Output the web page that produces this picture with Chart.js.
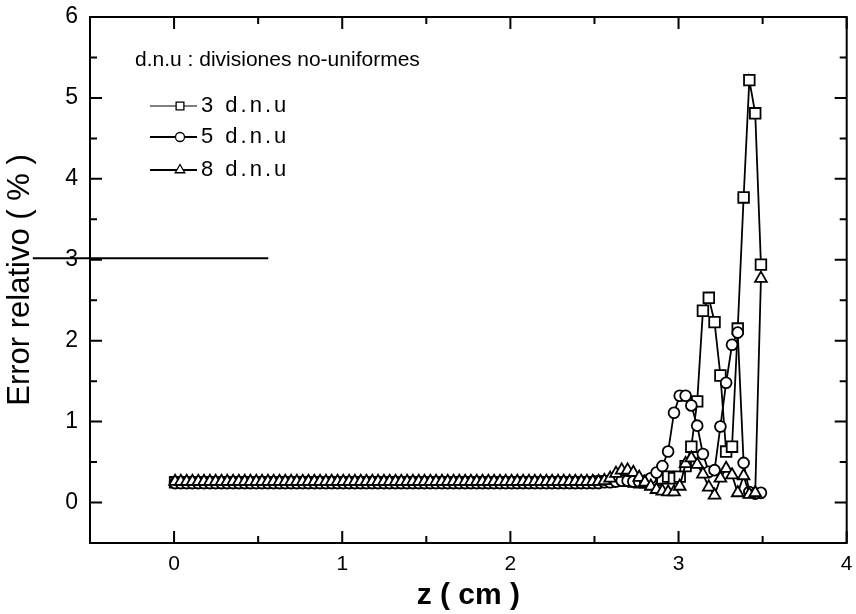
<!DOCTYPE html>
<html>
<head>
<meta charset="utf-8">
<script src="https://cdn.jsdelivr.net/npm/chart.js@4.4.0/dist/chart.umd.min.js"></script>
<style>
  body { margin: 0; background: #fff; }
  canvas { display: block; }
</style>
</head>
<body>
<canvas id="errChart" width="856" height="614"></canvas>
<script>
// z positions (cm) shared by the three curves
const zValues = [
  0.006, 0.040, 0.075, 0.109, 0.144, 0.178, 0.213, 0.247, 0.282, 0.316,
  0.351, 0.385, 0.420, 0.454, 0.489, 0.523, 0.558, 0.592, 0.627, 0.661,
  0.696, 0.730, 0.765, 0.799, 0.834, 0.868, 0.903, 0.937, 0.972, 1.006,
  1.041, 1.075, 1.110, 1.144, 1.179, 1.213, 1.248, 1.282, 1.317, 1.351,
  1.386, 1.420, 1.455, 1.489, 1.524, 1.558, 1.593, 1.627, 1.662, 1.696,
  1.731, 1.765, 1.800, 1.834, 1.869, 1.903, 1.938, 1.972, 2.007, 2.041,
  2.076, 2.110, 2.145, 2.179, 2.214, 2.248, 2.283, 2.317, 2.352, 2.386,
  2.421, 2.455, 2.490, 2.524, 2.559, 2.593, 2.628, 2.662, 2.697, 2.731,
  2.766, 2.800, 2.835, 2.869, 2.904, 2.938, 2.973, 3.007, 3.042, 3.076,
  3.111, 3.145, 3.180, 3.214, 3.249, 3.283, 3.318, 3.352, 3.387, 3.421,
  3.456, 3.490
];

// Error relativo (%) for 3 d.n.u
const err3 = [
  0.25, 0.25, 0.25, 0.25, 0.25, 0.25, 0.25, 0.25, 0.25, 0.25,
  0.25, 0.25, 0.25, 0.25, 0.25, 0.25, 0.25, 0.25, 0.25, 0.25,
  0.25, 0.25, 0.25, 0.25, 0.25, 0.25, 0.25, 0.25, 0.25, 0.25,
  0.25, 0.25, 0.25, 0.25, 0.25, 0.25, 0.25, 0.25, 0.25, 0.25,
  0.25, 0.25, 0.25, 0.25, 0.25, 0.25, 0.25, 0.25, 0.25, 0.25,
  0.25, 0.25, 0.25, 0.25, 0.25, 0.25, 0.25, 0.25, 0.25, 0.25,
  0.25, 0.25, 0.25, 0.25, 0.25, 0.25, 0.25, 0.25, 0.25, 0.25,
  0.25, 0.25, 0.25, 0.26, 0.26, 0.26, 0.27, 0.27, 0.27, 0.26,
  0.25, 0.25, 0.26, 0.28, 0.30, 0.32, 0.30, 0.32, 0.45, 0.69,
  1.25, 2.37, 2.53, 2.23, 1.57, 0.63, 0.69, 2.15, 3.77, 5.22,
  4.81, 2.94
];

// Error relativo (%) for 5 d.n.u
const err5 = [
  0.24, 0.24, 0.24, 0.24, 0.24, 0.24, 0.24, 0.24, 0.24, 0.24,
  0.24, 0.24, 0.24, 0.24, 0.24, 0.24, 0.24, 0.24, 0.24, 0.24,
  0.24, 0.24, 0.24, 0.24, 0.24, 0.24, 0.24, 0.24, 0.24, 0.24,
  0.24, 0.24, 0.24, 0.24, 0.24, 0.24, 0.24, 0.24, 0.24, 0.24,
  0.24, 0.24, 0.24, 0.24, 0.24, 0.24, 0.24, 0.24, 0.24, 0.24,
  0.24, 0.24, 0.24, 0.24, 0.24, 0.24, 0.24, 0.24, 0.24, 0.24,
  0.24, 0.24, 0.24, 0.24, 0.24, 0.24, 0.24, 0.24, 0.24, 0.24,
  0.24, 0.24, 0.24, 0.24, 0.25, 0.25, 0.26, 0.27, 0.27, 0.26,
  0.26, 0.27, 0.30, 0.37, 0.45, 0.63, 1.11, 1.32, 1.32, 1.20,
  0.95, 0.60, 0.38, 0.40, 0.94, 1.48, 1.95, 2.10, 0.49, 0.13,
  0.11, 0.12
];

// Error relativo (%) for 8 d.n.u
const err8 = [
  0.26, 0.26, 0.26, 0.26, 0.26, 0.26, 0.26, 0.26, 0.26, 0.26,
  0.26, 0.26, 0.26, 0.26, 0.26, 0.26, 0.26, 0.26, 0.26, 0.26,
  0.26, 0.26, 0.26, 0.26, 0.26, 0.26, 0.26, 0.26, 0.26, 0.26,
  0.26, 0.26, 0.26, 0.26, 0.26, 0.26, 0.26, 0.26, 0.26, 0.26,
  0.26, 0.26, 0.26, 0.26, 0.26, 0.26, 0.26, 0.26, 0.26, 0.26,
  0.26, 0.26, 0.26, 0.26, 0.26, 0.26, 0.26, 0.26, 0.26, 0.26,
  0.26, 0.26, 0.26, 0.26, 0.26, 0.26, 0.26, 0.26, 0.26, 0.26,
  0.26, 0.26, 0.26, 0.26, 0.27, 0.30, 0.36, 0.40, 0.40, 0.37,
  0.31, 0.25, 0.20, 0.16, 0.14, 0.13, 0.13, 0.20, 0.48, 0.55,
  0.47, 0.35, 0.19, 0.09, 0.30, 0.42, 0.34, 0.12, 0.33, 0.10,
  0.12, 2.77
];

// stray horizontal stroke on the scanned figure, near y = 3
const strayZ = [-0.84, 0.56];
const strayY = [3.02, 3.02];

const seriesNames = ['3 d.n.u', '5 d.n.u', '8 d.n.u'];
const seriesMarks = ['rect', 'circle', 'triangle'];
const legendHeading = 'd.n.u : divisiones no-uniformes';

const xTickValues = [0, 1, 2, 3, 4];
const xMinorValues = [0.5, 1.5, 2.5, 3.5];
const yTickValues = [0, 1, 2, 3, 4, 5, 6];
const yMinorValues = [-0.5, 0.5, 1.5, 2.5, 3.5, 4.5, 5.5];

function toPoints(xs, ys) {
    return xs.map((x, i) => ({ x: x, y: ys[i] }));
}

// box round the plot with inward ticks on all four sides
const frameTicks = {
    id: 'frameTicks',
    beforeDatasetsDraw(chart) {
        const ctx = chart.ctx;
        const a = chart.chartArea;
        const xs = chart.scales.x, ys = chart.scales.y;
        ctx.save();
        ctx.strokeStyle = '#000';
        ctx.lineWidth = 2;
        ctx.strokeRect(a.left, a.top, a.right - a.left, a.bottom - a.top);
        ctx.beginPath();
        const tick = (vals, len) => {
            vals.forEach(v => {
                const px = xs.getPixelForValue(v);
                ctx.moveTo(px, a.bottom); ctx.lineTo(px, a.bottom - len);
                ctx.moveTo(px, a.top); ctx.lineTo(px, a.top + len);
            });
        };
        const tickY = (vals, len) => {
            vals.forEach(v => {
                const py = ys.getPixelForValue(v);
                ctx.moveTo(a.left, py); ctx.lineTo(a.left + len, py);
                ctx.moveTo(a.right, py); ctx.lineTo(a.right - len, py);
            });
        };
        tick(xTickValues, 12);
        tick(xMinorValues, 7);
        tickY(yTickValues, 12);
        tickY(yMinorValues, 7);
        ctx.stroke();
        ctx.restore();
    }
};

// legend block inside the plot, top left
const innerLegend = {
    id: 'innerLegend',
    afterDraw(chart) {
        const ctx = chart.ctx;
        ctx.save();
        ctx.fillStyle = '#000';
        ctx.textBaseline = 'middle';
        ctx.font = '21px "Liberation Sans", Arial, sans-serif';
        ctx.fillText(legendHeading, 135, 60);
        const rows = [106, 137, 170];
        const sizes = [5.5, 4.5, 5.5];
        seriesNames.forEach((name, i) => {
            const y = rows[i];
            ctx.strokeStyle = '#000';
            ctx.lineWidth = i === 0 ? 1.2 : 2;
            ctx.beginPath();
            ctx.moveTo(150, y); ctx.lineTo(197, y);
            ctx.stroke();
            ctx.fillStyle = '#fff';
            ctx.lineWidth = 1.3;
            Chart.helpers.drawPoint(ctx, { pointStyle: seriesMarks[i], radius: sizes[i], borderWidth: 1.3 }, 180, y);
            ctx.fillStyle = '#000';
            ctx.font = '22px "Liberation Sans", Arial, sans-serif';
            ctx.letterSpacing = '3px';
            ctx.fillText(name, 201, y);
            ctx.letterSpacing = '0px';
        });
        ctx.restore();
    }
};

function seriesStyle(marker, radius) {
    return {
        borderColor: '#000',
        borderWidth: 1.8,
        pointStyle: marker,
        pointRadius: radius,
        pointBackgroundColor: '#fff',
        pointBorderColor: '#000',
        pointBorderWidth: 1.8,
        fill: false,
        tension: 0
    };
}

const ctx = document.getElementById('errChart').getContext('2d');
const errChart = new Chart(ctx, {
    type: 'line',
    data: {
        datasets: [
            Object.assign({ label: seriesNames[0], data: toPoints(zValues, err3), order: 3 }, seriesStyle('rect', 7.5)),
            Object.assign({ label: seriesNames[1], data: toPoints(zValues, err5), order: 2 }, seriesStyle('circle', 5.4)),
            Object.assign({ label: seriesNames[2], data: toPoints(zValues, err8), order: 1 }, seriesStyle('triangle', 6.8)),
            {
                label: 'stray',
                data: toPoints(strayZ, strayY),
                borderColor: '#000',
                borderWidth: 2,
                pointRadius: 0,
                clip: false,
                order: 4
            }
        ]
    },
    options: {
        responsive: false,
        animation: false,
        layout: { padding: { top: 17, right: 8, left: 0, bottom: 0 } },
        scales: {
            x: {
                type: 'linear',
                min: -0.5,
                max: 4,
                afterBuildTicks: scale => { scale.ticks = xTickValues.map(v => ({ value: v })); },
                afterFit: scale => { scale.height = 71; scale.paddingLeft = 0; scale.paddingRight = 0; },
                grid: { display: false, drawTicks: false },
                border: { display: false },
                ticks: {
                    padding: 9,
                    color: '#000',
                    maxRotation: 0,
                    font: { family: '"Liberation Sans", Arial, sans-serif', size: 21 }
                },
                title: {
                    display: true,
                    text: 'z ( cm )',
                    color: '#000',
                    padding: { top: 0, bottom: 0 },
                    font: { family: '"Liberation Sans", Arial, sans-serif', size: 30, weight: 'bold' }
                }
            },
            y: {
                min: -0.5,
                max: 6,
                afterBuildTicks: scale => { scale.ticks = yTickValues.map(v => ({ value: v })); },
                afterFit: scale => { scale.width = 90; scale.paddingTop = 0; scale.paddingBottom = 0; },
                grid: { display: false, drawTicks: false },
                border: { display: false },
                ticks: {
                    padding: 12,
                    color: '#000',
                    font: { family: '"Liberation Sans", Arial, sans-serif', size: 23 }
                },
                title: {
                    display: true,
                    text: 'Error relativo ( % )',
                    color: '#000',
                    padding: { top: 2, bottom: 0 },
                    font: { family: '"Liberation Sans", Arial, sans-serif', size: 31 }
                }
            }
        },
        plugins: {
            legend: { display: false },
            tooltip: { enabled: false }
        }
    },
    plugins: [frameTicks, innerLegend]
});
</script>
</body>
</html>
